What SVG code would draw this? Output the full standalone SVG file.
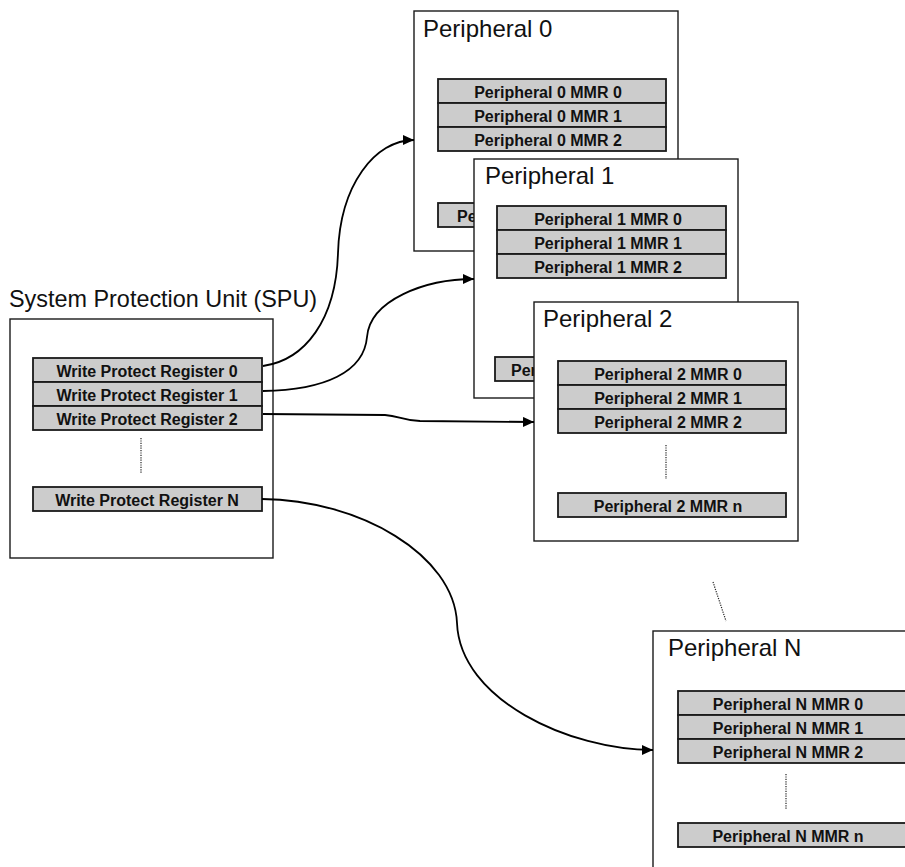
<svg xmlns="http://www.w3.org/2000/svg" width="905" height="867" viewBox="0 0 905 867">
<defs>
<style>
.box{fill:#ffffff;stroke:#1a1a1a;stroke-width:1.4}
.reg{fill:#cccccc;stroke:#1a1a1a;stroke-width:1.8}
.title{font-family:"Liberation Sans",Arial,sans-serif;font-size:24px;fill:#111}
.lbl{font-family:"Liberation Sans",Arial,sans-serif;font-size:16px;font-weight:bold;fill:#111;text-anchor:middle}
.lbls{font-family:"Liberation Sans",Arial,sans-serif;font-size:16px;font-weight:bold;fill:#111}
.dots{stroke:#222;stroke-width:1.2;stroke-dasharray:1.2 1.2;fill:none}
.conn{fill:none;stroke:#000;stroke-width:1.8}
</style>
<marker id="arr" markerUnits="userSpaceOnUse" markerWidth="12" markerHeight="10" refX="11" refY="5" orient="auto">
<path d="M0,0 L11,5 L0,10 z" fill="#000"/>
</marker>
</defs>
<rect width="905" height="867" fill="#ffffff"/>

<g id="spu">
<text class="title" x="9" y="307" style="font-size:23.4px">System Protection Unit (SPU)</text>
<rect class="box" x="10" y="319" width="263" height="239"/>
<rect class="reg" x="33" y="358" width="229" height="24"/>
<text class="lbl" x="147" y="377">Write Protect Register 0</text>
<rect class="reg" x="33" y="382" width="229" height="24"/>
<text class="lbl" x="147" y="401">Write Protect Register 1</text>
<rect class="reg" x="33" y="406" width="229" height="24"/>
<text class="lbl" x="147" y="425">Write Protect Register 2</text>
<line class="dots" x1="141" y1="438" x2="141" y2="473"/>
<rect class="reg" x="33" y="487" width="229" height="24"/>
<text class="lbl" x="147" y="506">Write Protect Register N</text>
</g>

<g id="peripheral0">
<rect class="box" x="414" y="11" width="264" height="240"/>
<text class="title" x="423" y="37">Peripheral 0</text>
<rect class="reg" x="438" y="79" width="228" height="24"/>
<text class="lbl" x="548" y="98">Peripheral 0 MMR 0</text>
<rect class="reg" x="438" y="103" width="228" height="24"/>
<text class="lbl" x="548" y="122">Peripheral 0 MMR 1</text>
<rect class="reg" x="438" y="127" width="228" height="24"/>
<text class="lbl" x="548" y="146">Peripheral 0 MMR 2</text>
<rect class="reg" x="438" y="203" width="228" height="24"/>
<text class="lbls" x="457" y="222">Pe</text>
</g>

<g id="peripheral1">
<rect class="box" x="474" y="159" width="264" height="239"/>
<text class="title" x="485" y="184">Peripheral 1</text>
<rect class="reg" x="497" y="206" width="229" height="24"/>
<text class="lbl" x="608" y="225">Peripheral 1 MMR 0</text>
<rect class="reg" x="497" y="230" width="229" height="24"/>
<text class="lbl" x="608" y="249">Peripheral 1 MMR 1</text>
<rect class="reg" x="497" y="254" width="229" height="24"/>
<text class="lbl" x="608" y="273">Peripheral 1 MMR 2</text>
<rect class="reg" x="495" y="357" width="229" height="24"/>
<text class="lbls" x="511" y="376">Per</text>
</g>

<g id="peripheral2">
<rect class="box" x="534" y="302" width="264" height="239"/>
<text class="title" x="543" y="327">Peripheral 2</text>
<rect class="reg" x="558" y="361" width="228" height="24"/>
<text class="lbl" x="668" y="380">Peripheral 2 MMR 0</text>
<rect class="reg" x="558" y="385" width="228" height="24"/>
<text class="lbl" x="668" y="404">Peripheral 2 MMR 1</text>
<rect class="reg" x="558" y="409" width="228" height="24"/>
<text class="lbl" x="668" y="428">Peripheral 2 MMR 2</text>
<line class="dots" x1="666" y1="445" x2="666" y2="479"/>
<rect class="reg" x="558" y="493" width="228" height="24"/>
<text class="lbl" x="668" y="512">Peripheral 2 MMR n</text>
</g>

<line class="dots" x1="713" y1="582" x2="726" y2="621"/>

<g id="peripheralN">
<rect class="box" x="653" y="631" width="264" height="250"/>
<text class="title" x="668" y="656">Peripheral N</text>
<rect class="reg" x="678" y="691" width="228" height="24"/>
<text class="lbl" x="788" y="710">Peripheral N MMR 0</text>
<rect class="reg" x="678" y="715" width="228" height="24"/>
<text class="lbl" x="788" y="734">Peripheral N MMR 1</text>
<rect class="reg" x="678" y="739" width="228" height="24"/>
<text class="lbl" x="788" y="758">Peripheral N MMR 2</text>
<line class="dots" x1="786" y1="774" x2="786" y2="809"/>
<rect class="reg" x="678" y="823" width="228" height="24"/>
<text class="lbl" x="788" y="842">Peripheral N MMR n</text>
</g>

<g id="connectors">
<path class="conn" marker-end="url(#arr)" d="M263,366 C305,360 336,320 338,253 C340,185 375,140 414,140"/>
<path class="conn" marker-end="url(#arr)" d="M263,391 C325,390 364,372 367,337 C370,300 425,279 474,279"/>
<path class="conn" marker-end="url(#arr)" d="M263,414 L385,415 C400,416 400,420 420,421 L534,422"/>
<path class="conn" marker-end="url(#arr)" d="M262,499 C360,500 454,555 457,623 C460,700 570,750 653,750"/>
</g>
</svg>
